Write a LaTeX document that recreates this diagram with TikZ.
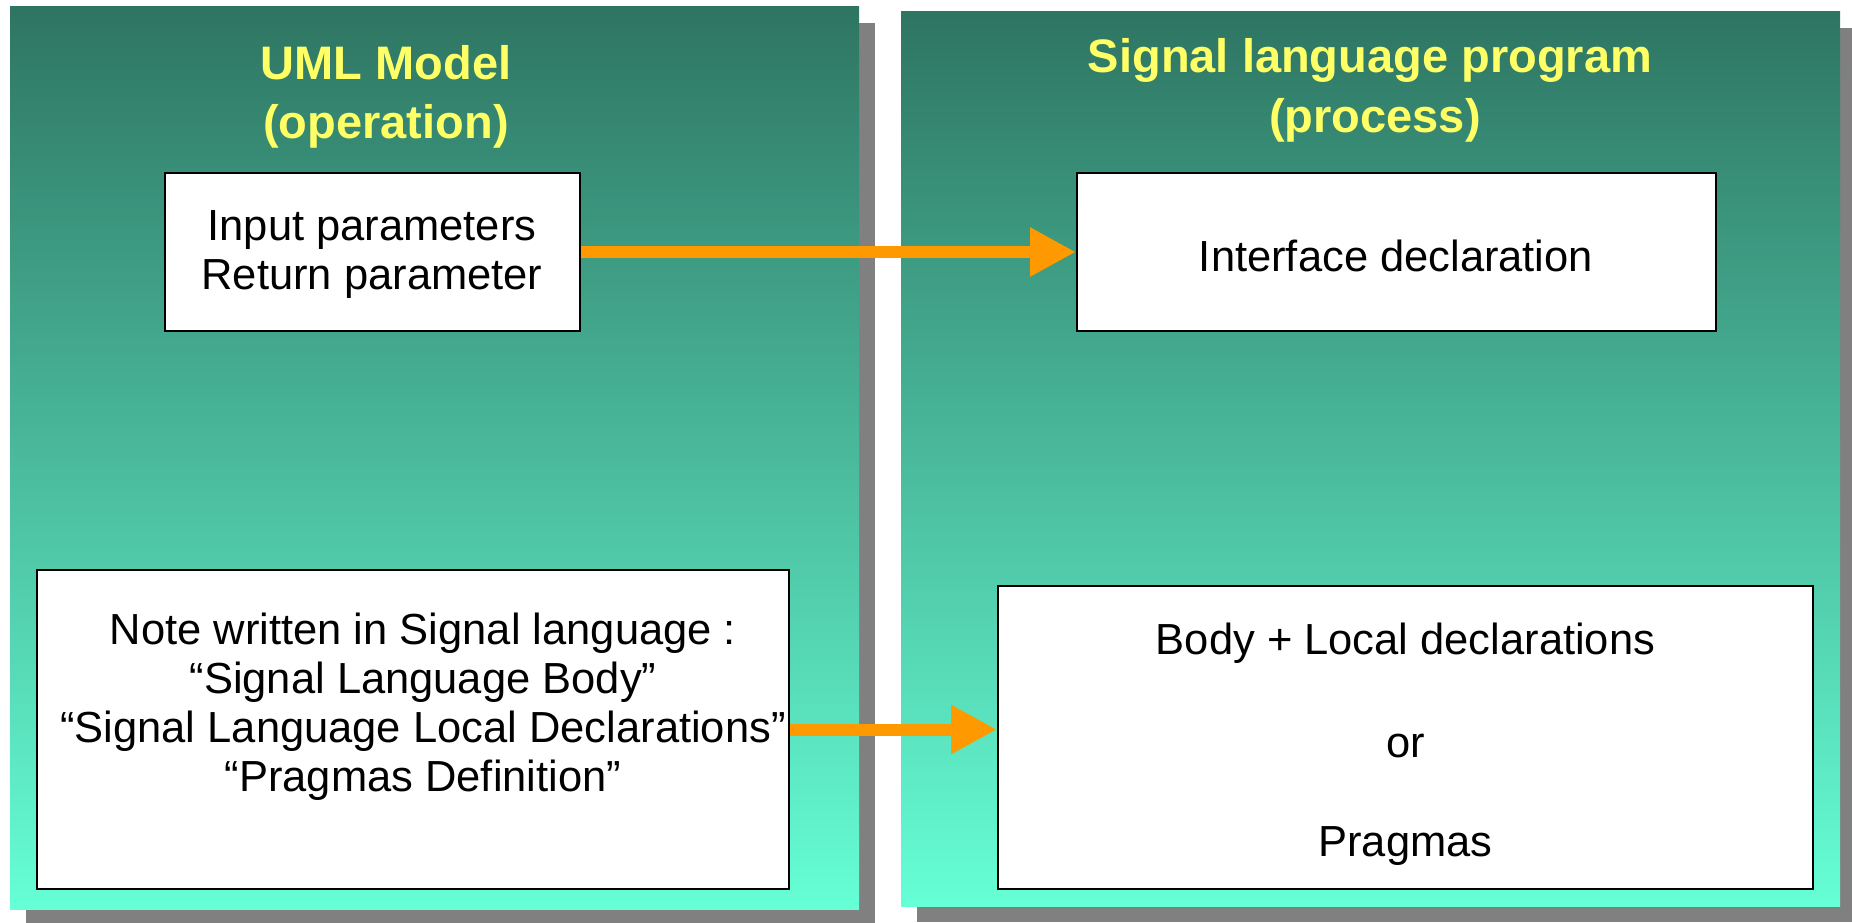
\documentclass[tikz,border=0pt]{standalone}
\usepackage{fontspec}
\setmainfont{Liberation Sans}
\usetikzlibrary{arrows.meta}
\definecolor{paneltop}{RGB}{46,117,98}
\definecolor{panelbot}{RGB}{102,255,214}
\definecolor{shadowgrey}{RGB}{128,128,128}
\definecolor{titleyellow}{RGB}{255,255,102}
\definecolor{arroworange}{RGB}{255,153,0}
\begin{document}
\begin{tikzpicture}[x=1pt,y=-1pt,
  panel/.style={top color=paneltop,bottom color=panelbot,draw=none},
  shadowbox/.style={fill=shadowgrey,draw=none},
  box/.style={draw=black,line width=2pt,fill=white,inner sep=0pt},
  title/.style={font=\fontsize{47}{59}\selectfont\bfseries,text=titleyellow,anchor=base,inner sep=0pt},
  label/.style={font=\fontsize{43.5}{49}\selectfont,anchor=base,inner sep=0pt},
  flow/.style={draw=arroworange,line width=12pt,-{Triangle[length=46pt,width=46pt]}}]
\useasboundingbox (0,0) rectangle (1852,923);

% drop shadows and gradient panels
\fill[shadowbox] (26,23) rectangle (875,923);
\fill[shadowbox] (917,28) rectangle (1852,922);
\fill[panel] (10,7) rectangle (859,909);
\fill[panel] (901,12) rectangle (1840,906);

% panel titles
\node[title] (uml1) at (386,80) {UML Model};
\node[title] (uml2) at (386,139) {(operation)};
\node[title] (sig1) at (1370,73) {Signal language program};
\node[title] (sig2) at (1375,132) {(process)};

% boxes
\node[box,minimum width=415pt,minimum height=158pt] (params) at (372.5,252) {};
\node[box,minimum width=639pt,minimum height=158pt] (iface) at (1396.5,252) {};
\node[box,minimum width=752pt,minimum height=319pt] (note) at (413,729.5) {};
\node[box,minimum width=815pt,minimum height=303pt] (body) at (1405.5,737.5) {};

% box texts
\node[label] (p1) at (372,240) {Input parameters};
\node[label] (p2) at (372,289) {Return parameter};
\node[label] (i1) at (1396,271) {Interface declaration};
\node[label] (n1) at (423,644) {Note written in Signal language :};
\node[label] (n2) at (423,693) {“Signal Language Body”};
\node[label] (n3) at (423,742) {“Signal Language Local Declarations”};
\node[label] (n4) at (423,791) {“Pragmas Definition”};
\node[label] (b1) at (1405.5,654) {Body + Local declarations};
\node[label] (b2) at (1405.5,757) {or};
\node[label] (b3) at (1405.5,856) {Pragmas};

% mapping arrows
\draw[flow] (params.east) -- (iface.west);
\draw[flow] (note.east) -- (note.east -| body.west);
\end{tikzpicture}
\end{document}
